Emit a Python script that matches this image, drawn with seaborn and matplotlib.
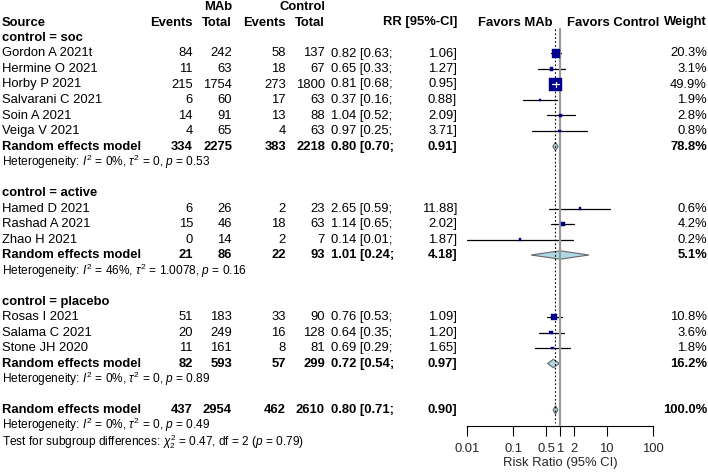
import numpy as np
import pandas as pd
import seaborn as sns
import matplotlib.pyplot as plt
from matplotlib.patches import Polygon

sns.set_theme(style="white")
plt.rcParams['font.family'] = ['Liberation Sans', 'DejaVu Sans']
plt.rcParams['mathtext.fontset'] = 'custom'
plt.rcParams['mathtext.rm'] = 'Liberation Sans'
plt.rcParams['mathtext.it'] = 'Liberation Sans:italic'

# study data
studies = ['Gordon A 2021t', 'Hermine O 2021', 'Horby P 2021', 'Salvarani C 2021',
           'Soin A 2021', 'Veiga V 2021',
           'Hamed D 2021', 'Rashad A 2021', 'Zhao H 2021',
           'Rosas I 2021', 'Salama C 2021', 'Stone JH 2020']
group = ['soc'] * 6 + ['active'] * 3 + ['placebo'] * 3
ev_mab = [84, 11, 215, 6, 14, 4, 6, 15, 0, 51, 20, 11]
n_mab = [242, 63, 1754, 60, 91, 65, 26, 46, 14, 183, 249, 161]
ev_ctl = [58, 18, 273, 17, 13, 4, 2, 18, 2, 33, 16, 8]
n_ctl = [137, 67, 1800, 63, 88, 63, 23, 63, 7, 90, 128, 81]
rr = [0.82, 0.65, 0.81, 0.37, 1.04, 0.97, 2.65, 1.14, 0.14, 0.76, 0.64, 0.69]
lo = [0.63, 0.33, 0.68, 0.16, 0.52, 0.25, 0.59, 0.65, 0.01, 0.53, 0.35, 0.29]
hi = [1.06, 1.27, 0.95, 0.88, 2.09, 3.71, 11.88, 2.02, 1.87, 1.09, 1.20, 1.65]
weight = [20.3, 3.1, 49.9, 1.9, 2.8, 0.8, 0.6, 4.2, 0.2, 10.8, 3.6, 1.8]

# pooled (subgroups + overall)
pooled_names = ['soc', 'active', 'placebo', 'overall']
p_ev_mab = [334, 21, 82, 437]
p_n_mab = [2275, 86, 593, 2954]
p_ev_ctl = [383, 22, 57, 462]
p_n_ctl = [2218, 93, 299, 2610]
p_rr = [0.80, 1.01, 0.72, 0.80]
p_lo = [0.70, 0.24, 0.54, 0.71]
p_hi = [0.91, 4.18, 0.97, 0.90]
p_weight = [78.8, 5.1, 16.2, 100.0]
het_i2 = ['0%', '46%', '0%', '0%']
het_tau2 = ['0', '1.0078', '0', '0']
het_p = ['0.53', '0.16', '0.89', '0.49']
subgroup_chi2 = '0.47'
subgroup_df = '2'
subgroup_p = '0.79'

x_ticks = [0.01, 0.1, 0.5, 1, 2, 10, 100]
x_ticklabels = ['0.01', '0.1', '0.5', '1', '2', '10', '100']

df = pd.DataFrame(dict(study=studies, group=group, ev_mab=ev_mab, n_mab=n_mab,
                       ev_ctl=ev_ctl, n_ctl=n_ctl, rr=rr, lo=lo, hi=hi, weight=weight))
pooled = pd.DataFrame(dict(name=pooled_names, ev_mab=p_ev_mab, n_mab=p_n_mab,
                           ev_ctl=p_ev_ctl, n_ctl=p_n_ctl, rr=p_rr, lo=p_lo, hi=p_hi,
                           weight=p_weight, i2=het_i2, tau2=het_tau2, p=het_p))

# layout (pixels)
W, H = 708, 473
Y0, STEP = 7.0, 15.5
FS = 9.4
FS_SMALL = 8.6
X_EV_M, X_N_M, X_EV_C, X_N_C = 193, 232, 286, 325
X_RR, X_HI, X_W = 331, 457, 707
FX0, FX1, FY1 = 466.7, 653.3, 426.0


def row_y(r):
    return Y0 + r * STEP


fig = plt.figure(figsize=(W / 100, H / 100), dpi=100)
tax = fig.add_axes([0, 0, 1, 1])
tax.set_xlim(0, W)
tax.set_ylim(H, 0)
tax.axis('off')

fax = fig.add_axes([FX0 / W, (H - FY1) / H, (FX1 - FX0) / W, FY1 / H])
fax.patch.set_alpha(0)
fax.set_xscale('log')
fax.set_xlim(0.01, 100)
fax.set_ylim(FY1, 0)


def txt(x, r, s, ha='left', bold=False, size=FS):
    tax.text(x, row_y(r), s, ha=ha, va='center', fontsize=size,
             fontweight='bold' if bold else 'normal', color='black')


def data_row(r, label, em, nm, ec, nc, est, l, h, w, bold):
    txt(2, r, label, bold=bold)
    txt(X_EV_M, r, str(em), 'right', bold)
    txt(X_N_M, r, str(nm), 'right', bold)
    txt(X_EV_C, r, str(ec), 'right', bold)
    txt(X_N_C, r, str(nc), 'right', bold)
    txt(X_RR, r, f"{est:.2f} [{l:.2f};", 'left', bold)
    txt(X_HI, r, f"{h:.2f}]", 'right', bold)
    txt(X_W, r, f"{w:.1f}%", 'right', bold)


# headers
txt(X_N_M, 0, 'MAb', 'right', True)
txt(X_N_C, 0, 'Control', 'right', True)
txt(2, 1, 'Source', bold=True)
txt(X_EV_M, 1, 'Events', 'right', True)
txt(X_N_M, 1, 'Total', 'right', True)
txt(X_EV_C, 1, 'Events', 'right', True)
txt(X_N_C, 1, 'Total', 'right', True)
txt(X_HI, 1, 'RR [95%-CI]', 'right', True)
txt(553, 1, 'Favors MAb', 'right', True)
txt(567, 1, 'Favors Control', 'left', True)
txt(X_W, 1, 'Weight', 'right', True)

# rows
r = 2
study_rows = []
pooled_rows = []
for gi, g in enumerate(['soc', 'active', 'placebo']):
    txt(2, r, f'control = {g}', bold=True)
    r += 1
    for _, s in df[df.group == g].iterrows():
        data_row(r, s.study, s.ev_mab, s.n_mab, s.ev_ctl, s.n_ctl, s.rr, s.lo, s.hi, s.weight, False)
        study_rows.append(row_y(r))
        r += 1
    p = pooled.iloc[gi]
    data_row(r, 'Random effects model', p.ev_mab, p.n_mab, p.ev_ctl, p.n_ctl, p.rr, p.lo, p.hi, p.weight, True)
    pooled_rows.append(row_y(r))
    r += 1
    txt(2, r, rf"Heterogeneity: $I^2$ = {p.i2}, $\tau^2$ = {p.tau2}, $p$ = {p.p}", size=FS_SMALL)
    r += 2

p = pooled.iloc[3]
data_row(r, 'Random effects model', p.ev_mab, p.n_mab, p.ev_ctl, p.n_ctl, p.rr, p.lo, p.hi, p.weight, True)
pooled_rows.append(row_y(r))
r += 1
txt(2, r - 0.05, rf"Heterogeneity: $I^2$ = {p.i2}, $\tau^2$ = {p.tau2}, $p$ = {p.p}", size=FS_SMALL)
r += 1
txt(2, r + 0.05, rf"Test for subgroup differences: $\chi^2_{{{subgroup_df}}}$ = {subgroup_chi2}, "
                 rf"df = {subgroup_df} ($p$ = {subgroup_p})", size=FS_SMALL)

df['y'] = study_rows
pooled['y'] = pooled_rows

# reference lines
fax.plot([1, 1], [row_y(1.4), FY1], color='#9a9a9a', lw=1.6, zorder=4)
fax.plot([pooled.rr.iloc[3]] * 2, [row_y(1.4), FY1 - 3], color='black', lw=0.8,
         ls=(0, (1.5, 2)), zorder=4)

# CI lines and squares
px_per_dec = (FX1 - FX0) / 4.0
side_px = 13.0 * np.sqrt(df.weight / df.weight.max())
for (_, s), sp in zip(df.iterrows(), side_px):
    span = np.log10(s.hi / s.lo) * px_per_dec
    inside = span < sp
    fax.plot([s.lo, s.hi], [s.y, s.y], color='white' if inside else 'black',
             lw=0.9, zorder=6 if inside else 3)
    if inside:
        fax.plot([s.rr, s.rr], [s.y - 2.5, s.y + 2.5], color='white', lw=0.9, zorder=6)
sizes = (side_px * 0.72) ** 2
sns.scatterplot(x=df.rr, y=df.y, s=np.maximum(sizes, 3), marker='s', color='#00008b',
                edgecolor='#00008b', linewidth=0.3, ax=fax, zorder=5, legend=False)

# diamonds
for _, d in pooled.iterrows():
    hh = 4.2
    fax.add_patch(Polygon([[d.lo, d.y], [d.rr, d.y - hh], [d.hi, d.y], [d.rr, d.y + hh]],
                          closed=True, facecolor='#add8e6', edgecolor='#666666',
                          lw=0.8, zorder=3))

# axis
for sp in ['top', 'left', 'right']:
    fax.spines[sp].set_visible(False)
fax.spines['bottom'].set_color('black')
fax.spines['bottom'].set_linewidth(0.8)
fax.set_yticks([])
fax.set_xticks(x_ticks)
fax.set_xticklabels(x_ticklabels)
fax.minorticks_off()
fax.tick_params(axis='x', direction='out', length=7, width=0.8, color='black',
                labelsize=FS, pad=5, bottom=True)
fax.set_xlabel('Risk Ratio (95% CI)', fontsize=FS, labelpad=2)
fax.set_ylabel('')

fig.savefig('out.png', dpi=100)
